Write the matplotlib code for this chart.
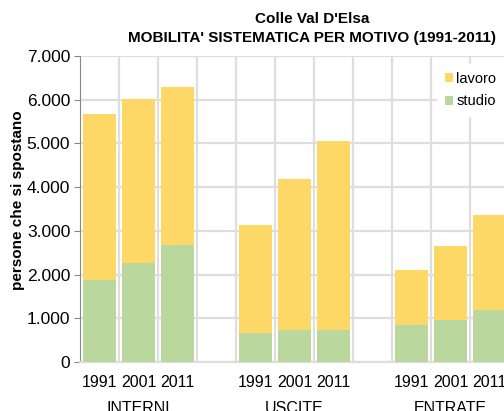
import matplotlib.pyplot as plt
import numpy as np
from matplotlib.ticker import FuncFormatter, FixedLocator
from matplotlib.transforms import blended_transform_factory

plt.rcParams["font.family"] = ["Liberation Sans", "DejaVu Sans"]

GROUPS = ["INTERNI", "USCITE", "ENTRATE"]
YEARS = ["1991", "2001", "2011"]
# values per group, in year order
STUDIO = [[1880, 2260, 2680], [660, 735, 735], [850, 965, 1190]]
TOTALE = [[5675, 6020, 6295], [3135, 4180, 5055], [2105, 2645, 3370]]

YELLOW = "#fdd866"
GREEN = "#bad89e"
GRID = "#dedede"

fig = plt.figure(figsize=(5.04, 4.11), dpi=100)
ax = fig.add_axes([80 / 504, 49 / 411, 429 / 504, 306 / 411])

# three bars per group, one empty slot between groups
xs, studio, lavoro, labels = [], [], [], []
for g in range(len(GROUPS)):
    for i, yr in enumerate(YEARS):
        xs.append(g * 4 + i)
        studio.append(STUDIO[g][i])
        lavoro.append(TOTALE[g][i] - STUDIO[g][i])
        labels.append(yr)
xs = np.array(xs)

ax.bar(xs, studio, width=0.86, color=GREEN, label="studio", zorder=3)
ax.bar(xs, lavoro, bottom=studio, width=0.86, color=YELLOW, label="lavoro", zorder=3)

ax.set_xlim(-0.5, 10.5)
ax.set_ylim(0, 7000)
ax.set_yticks(np.arange(0, 7001, 1000))
ax.yaxis.set_major_formatter(FuncFormatter(lambda v, p: f"{int(v):,}".replace(",", ".")))
ax.set_xticks(xs)
ax.set_xticklabels(labels)
ax.xaxis.set_minor_locator(FixedLocator(np.arange(0.5, 10.5, 1)))

ax.grid(axis="y", which="major", color=GRID, linewidth=1.6, zorder=0)
ax.grid(axis="x", which="minor", color=GRID, linewidth=1.6, zorder=0)
ax.tick_params(axis="x", which="both", length=0, pad=9, labelsize=11.5)
ax.tick_params(axis="y", length=4, color="#888888", labelsize=12.5, pad=3)

for s in ["top", "right"]:
    ax.spines[s].set_visible(False)
ax.spines["left"].set_color("#888888")
ax.spines["bottom"].set_color(GRID)
ax.spines["bottom"].set_linewidth(1.6)

# group names under the years
trans = blended_transform_factory(ax.transData, fig.transFigure)
for g, name in enumerate(GROUPS):
    ax.text(g * 4 + 1, 2.5 / 411, name, transform=trans, ha="center", va="center",
            fontsize=11.5)

ax.set_ylabel("persone che si spostano", fontsize=11, fontweight="bold")
ax.yaxis.set_label_coords(-0.128, 0.53)

fig.text(312 / 504, 1 - 19 / 411, "Colle Val D'Elsa", ha="center", va="center",
         fontsize=11, fontweight="bold")
fig.text(312 / 504, 1 - 38 / 411, "MOBILITA' SISTEMATICA PER MOTIVO (1991-2011)",
         ha="center", va="center", fontsize=11, fontweight="bold")

handles, lbls = ax.get_legend_handles_labels()
leg = ax.legend(handles[::-1], lbls[::-1], loc="upper left",
                bbox_to_anchor=(430 / 504, 1 - 57 / 411), bbox_transform=fig.transFigure,
                frameon=True, fancybox=False, edgecolor="white", framealpha=1,
                handlelength=0.55, handleheight=0.55, handletextpad=0.25,
                labelspacing=0.6, fontsize=10.5, borderpad=0.5)
leg.set_zorder(5)

fig.savefig("out.png", dpi=100)
